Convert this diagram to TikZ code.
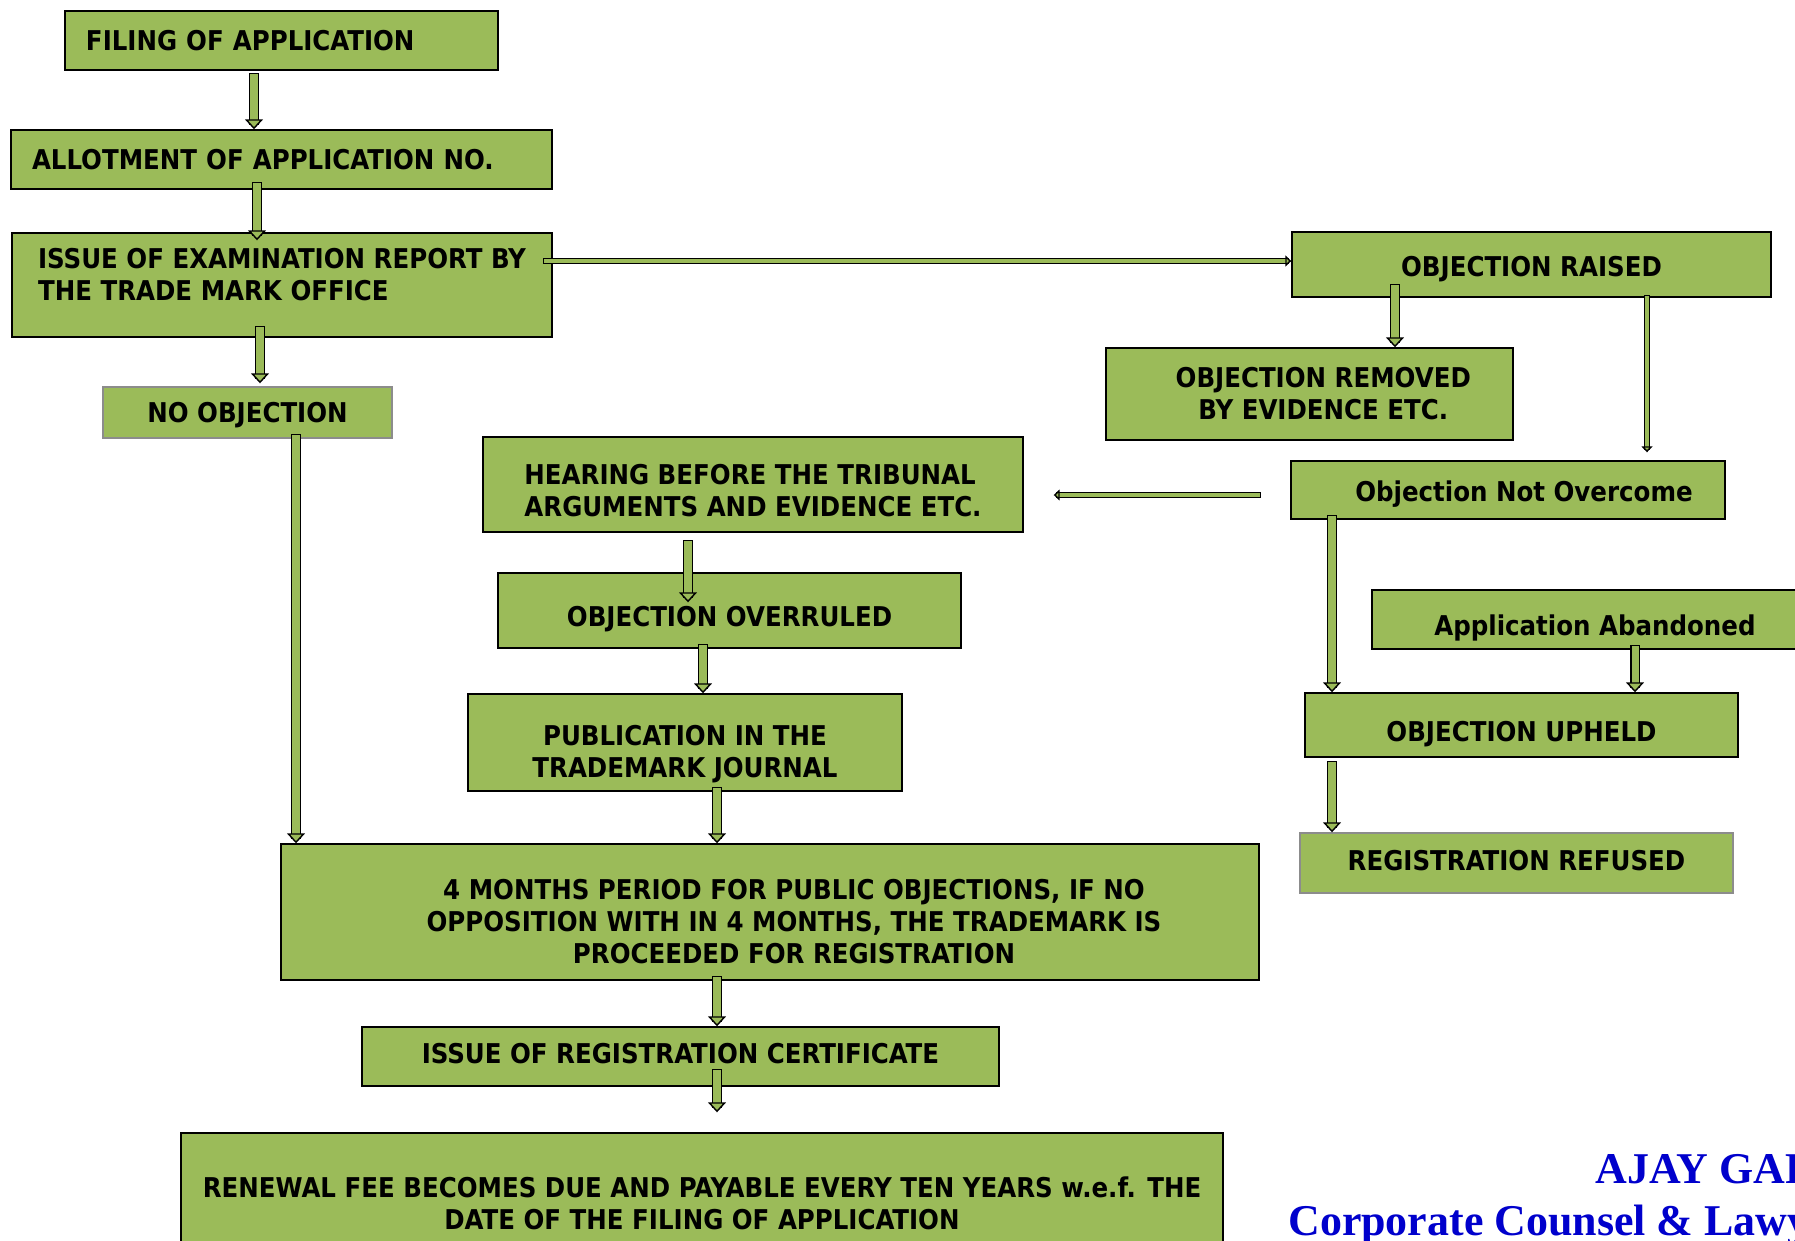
\documentclass[tikz,border=0pt]{standalone}
\usepackage{fontspec}
\newfontfamily\boxfont{DejaVu Sans Condensed Bold}
\newfontfamily\signfont{Liberation Serif Bold}
\usetikzlibrary{arrows.meta}
\definecolor{boxgreen}{HTML}{9BBB59}
\definecolor{signblue}{HTML}{0000CC}
\tikzset{
  box/.style={draw, line width=0.8pt, fill=boxgreen, align=center,
    font=\boxfont\fontsize{15.5pt}{18.2pt}\selectfont},
  leftbox/.style={box, align=left, inner xsep=0.42cm},
  oneline/.style={text height=#1, text depth=0pt},
  oneline/.default=11.5pt,
  arr/.style={draw=black, line width=0.8pt, double=boxgreen, double distance=4pt,
    line cap=rect, -{Triangle[width=0.36cm, length=0.2cm, fill=boxgreen, line width=0.8pt]}},
  thinarr/.style={arr, double distance=1.8pt,
    -{Triangle[width=0.22cm, length=0.12cm, fill=boxgreen, line width=0.8pt]}},
  sign/.style={signblue, font=\signfont\fontsize{25pt}{30pt}\selectfont,
    anchor=base west, inner sep=0pt}
}
\begin{document}
\begin{tikzpicture}
\useasboundingbox (0,0) rectangle (35.9,-24.82);
\clip (0,0) rectangle (35.9,-24.82);

% left column
\node[leftbox, text width=7.82cm, minimum height=1.18cm] (filing) at (5.63,-0.81) {FILING OF APPLICATION};
\node[leftbox, text width=9.98cm, minimum height=1.18cm] (allot) at (5.63,-3.19) {ALLOTMENT OF APPLICATION NO.};
\node[box, align=left, minimum width=10.8cm, minimum height=2.08cm] (exam) at (5.64,-5.70)
  {ISSUE OF EXAMINATION REPORT BY\\THE TRADE MARK OFFICE\\[-6pt]\mbox{}};
\node[box, oneline, draw=black!45, minimum width=5.78cm, minimum height=1.02cm] (noobj) at (4.95,-8.25) {NO OBJECTION};

% objection side
\node[box, oneline=13.2pt, minimum width=9.58cm, minimum height=1.3cm] (raised) at (30.63,-5.29) {OBJECTION RAISED};
\node[box, minimum width=8.14cm, minimum height=1.84cm] (removed) at (26.19,-7.88)
  {\hspace*{0.55cm}OBJECTION REMOVED\\\hspace*{0.55cm}BY EVIDENCE ETC.};
\node[box, oneline=12.6pt, minimum width=8.68cm, minimum height=1.16cm] (notover) at (30.16,-9.80)
  {\hspace*{0.64cm}Objection Not Overcome};
\node[box, oneline=17.8pt, minimum width=8.92cm, minimum height=1.18cm] (abandoned) at (31.90,-12.39) {Application Abandoned};
\node[box, oneline=18.3pt, minimum width=8.66cm, minimum height=1.28cm] (upheld) at (30.43,-14.50) {OBJECTION UPHELD};
\node[box, oneline=8.1pt, draw=black!45, minimum width=8.66cm, minimum height=1.2cm] (refused) at (30.33,-17.26) {REGISTRATION REFUSED};

% hearing and publication
\node[box, align=left, minimum width=10.8cm, minimum height=1.9cm] (hearing) at (15.06,-9.69)
  {\mbox{}\\[0pt]HEARING BEFORE THE TRIBUNAL\\ARGUMENTS AND EVIDENCE ETC.};
\node[box, oneline=18.3pt, minimum width=9.26cm, minimum height=1.5cm] (overruled) at (14.59,-12.21) {OBJECTION OVERRULED};
\node[box, minimum width=8.68cm, minimum height=1.94cm] (pub) at (13.70,-14.85)
  {\mbox{}\\[7pt]PUBLICATION IN THE\\TRADEMARK JOURNAL};

% bottom
\node[box, minimum width=19.56cm, minimum height=2.72cm] (months) at (15.40,-18.24)
  {\mbox{}\\[4.4pt]\hspace*{0.96cm}4 MONTHS PERIOD FOR PUBLIC OBJECTIONS, IF NO\\
   \hspace*{0.96cm}OPPOSITION WITH IN 4 MONTHS, THE TRADEMARK IS\\
   \hspace*{0.96cm}PROCEEDED FOR REGISTRATION};
\node[box, oneline=8.1pt, minimum width=12.74cm, minimum height=1.18cm] (cert) at (13.61,-21.13) {ISSUE OF REGISTRATION CERTIFICATE};
\node[box, minimum width=20.84cm, minimum height=2.8cm] (renewal) at (14.04,-24.06)
  {RENEWAL FEE BECOMES DUE AND PAYABLE EVERY TEN YEARS w.e.f. THE\\DATE OF THE FILING OF APPLICATION};

% arrows
\draw[arr, shorten <=0.14cm] (filing.south -| 5.08,0) -- (allot.north -| 5.08,0);
\draw[arr, shorten <=-0.06cm, shorten >=-0.16cm] (allot.south -| 5.14,0) -- (exam.north -| 5.14,0);
\draw[arr, shorten <=-0.14cm, shorten >=0.06cm] (exam.south -| 5.2,0) -- (noobj.north -| 5.2,0);
\draw[thinarr, shorten <=-0.14cm] (exam.east |- 0,-5.22) -- (raised.west |- 0,-5.22);
\draw[arr, shorten <=-0.18cm] (raised.south -| 27.9,0) -- (removed.north -| 27.9,0);
\draw[thinarr, shorten >=0.16cm] (raised.south -| 32.94,0) -- (notover.north -| 32.94,0);
\draw[thinarr, shorten <=0.64cm, shorten >=0.6cm] (notover.west |- 0,-9.9) -- (hearing.east |- 0,-9.9);
\draw[arr, shorten <=0.24cm, shorten >=-0.6cm] (hearing.south -| 13.76,0) -- (overruled.north -| 13.76,0);
\draw[arr] (overruled.south -| 14.06,0) -- (pub.north -| 14.06,0);
\draw[arr] (pub.south -| 14.34,0) -- (months.north -| 14.34,0);
\draw[arr] (noobj.south -| 5.92,0) -- (months.north -| 5.92,0);
\draw[arr] (months.south -| 14.34,0) -- (cert.north -| 14.34,0);
\draw[arr, shorten <=-0.26cm, shorten >=0.4cm] (cert.south -| 14.34,0) -- (renewal.north -| 14.34,0);
\draw[arr] (notover.south -| 26.64,0) -- (upheld.north -| 26.64,0);
\draw[arr] (abandoned.south -| 32.7,0) -- (upheld.north -| 32.7,0);
\draw[arr, shorten <=0.16cm] (upheld.south -| 26.64,0) -- (refused.north -| 26.64,0);

% signature
\node[sign] (sig1) at (31.9,-23.66) {AJAY GARG};
\node[sign] (sig2) at (25.76,-24.70) {Corporate Counsel \& Lawyers};
\end{tikzpicture}
\end{document}
